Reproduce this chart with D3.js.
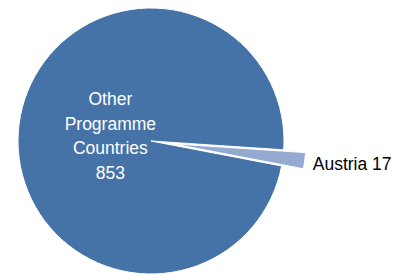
<!DOCTYPE html>
<html>
<head>
<meta charset="utf-8">
<script src="https://cdn.jsdelivr.net/npm/d3@7"></script>
<style>
  html, body { margin: 0; padding: 0; background: #fff; }
  svg { display: block; }
  text { font-family: "Liberation Sans", Arial, sans-serif; }
</style>
</head>
<body>
<svg id="chart" width="393" height="275"></svg>
<script>
// Data
const categories = ["Austria", "Other Programme Countries"];
const values = [17, 853];
const labelLines = [["Austria 17"], ["Other", "Programme", "Countries", "853"]];
const colors = ["#95aad0", "#4573a7"];

const W = 393, H = 275;
const cx = 151, cy = 141, R = 133, explode = 22;
const svg = d3.select("#chart");

const startDeg = 93.8;
const pie = d3.pie().sort(null)
  .startAngle(startDeg * Math.PI / 180)
  .endAngle((startDeg + 360) * Math.PI / 180);
const arcs = pie(values);
const arc = d3.arc().innerRadius(0).outerRadius(R);

const g = svg.append("g").attr("transform", `translate(${cx},${cy})`);

// draw Other first, then Austria (exploded) on top
const order = [1, 0];
order.forEach(i => {
  const a = arcs[i];
  const mid = (a.startAngle + a.endAngle) / 2;
  const off = i === 0 ? explode : 0;
  const dx = off * Math.sin(mid), dy = -off * Math.cos(mid);
  g.append("path")
    .attr("d", arc(a))
    .attr("transform", `translate(${dx},${dy})`)
    .attr("fill", colors[i])
    .attr("stroke", "#fff")
    .attr("stroke-width", 1);
});

// Other label (inside)
{
  const a = arcs[1];
  const c = d3.arc().innerRadius(0).outerRadius(82).centroid(a);
  const lines = labelLines[1];
  const lh = 24.5;
  const t = g.append("text")
    .attr("text-anchor", "middle")
    .attr("fill", "#fff")
    .attr("font-size", 17.5);
  lines.forEach((l, k) => {
    t.append("tspan")
      .attr("x", c[0])
      .attr("y", c[1] + (k - (lines.length - 1) / 2) * lh + 6)
      .text(l);
  });
}

// Austria label (outside)
{
  const a = arcs[0];
  const mid = (a.startAngle + a.endAngle) / 2;
  const rr = R + explode;
  const px = rr * Math.sin(mid), py = -rr * Math.cos(mid);
  g.append("text")
    .attr("x", px + 8)
    .attr("y", py + 9)
    .attr("fill", "#000")
    .attr("font-size", 17.5)
    .text(labelLines[0][0]);
}
</script>
</body>
</html>
